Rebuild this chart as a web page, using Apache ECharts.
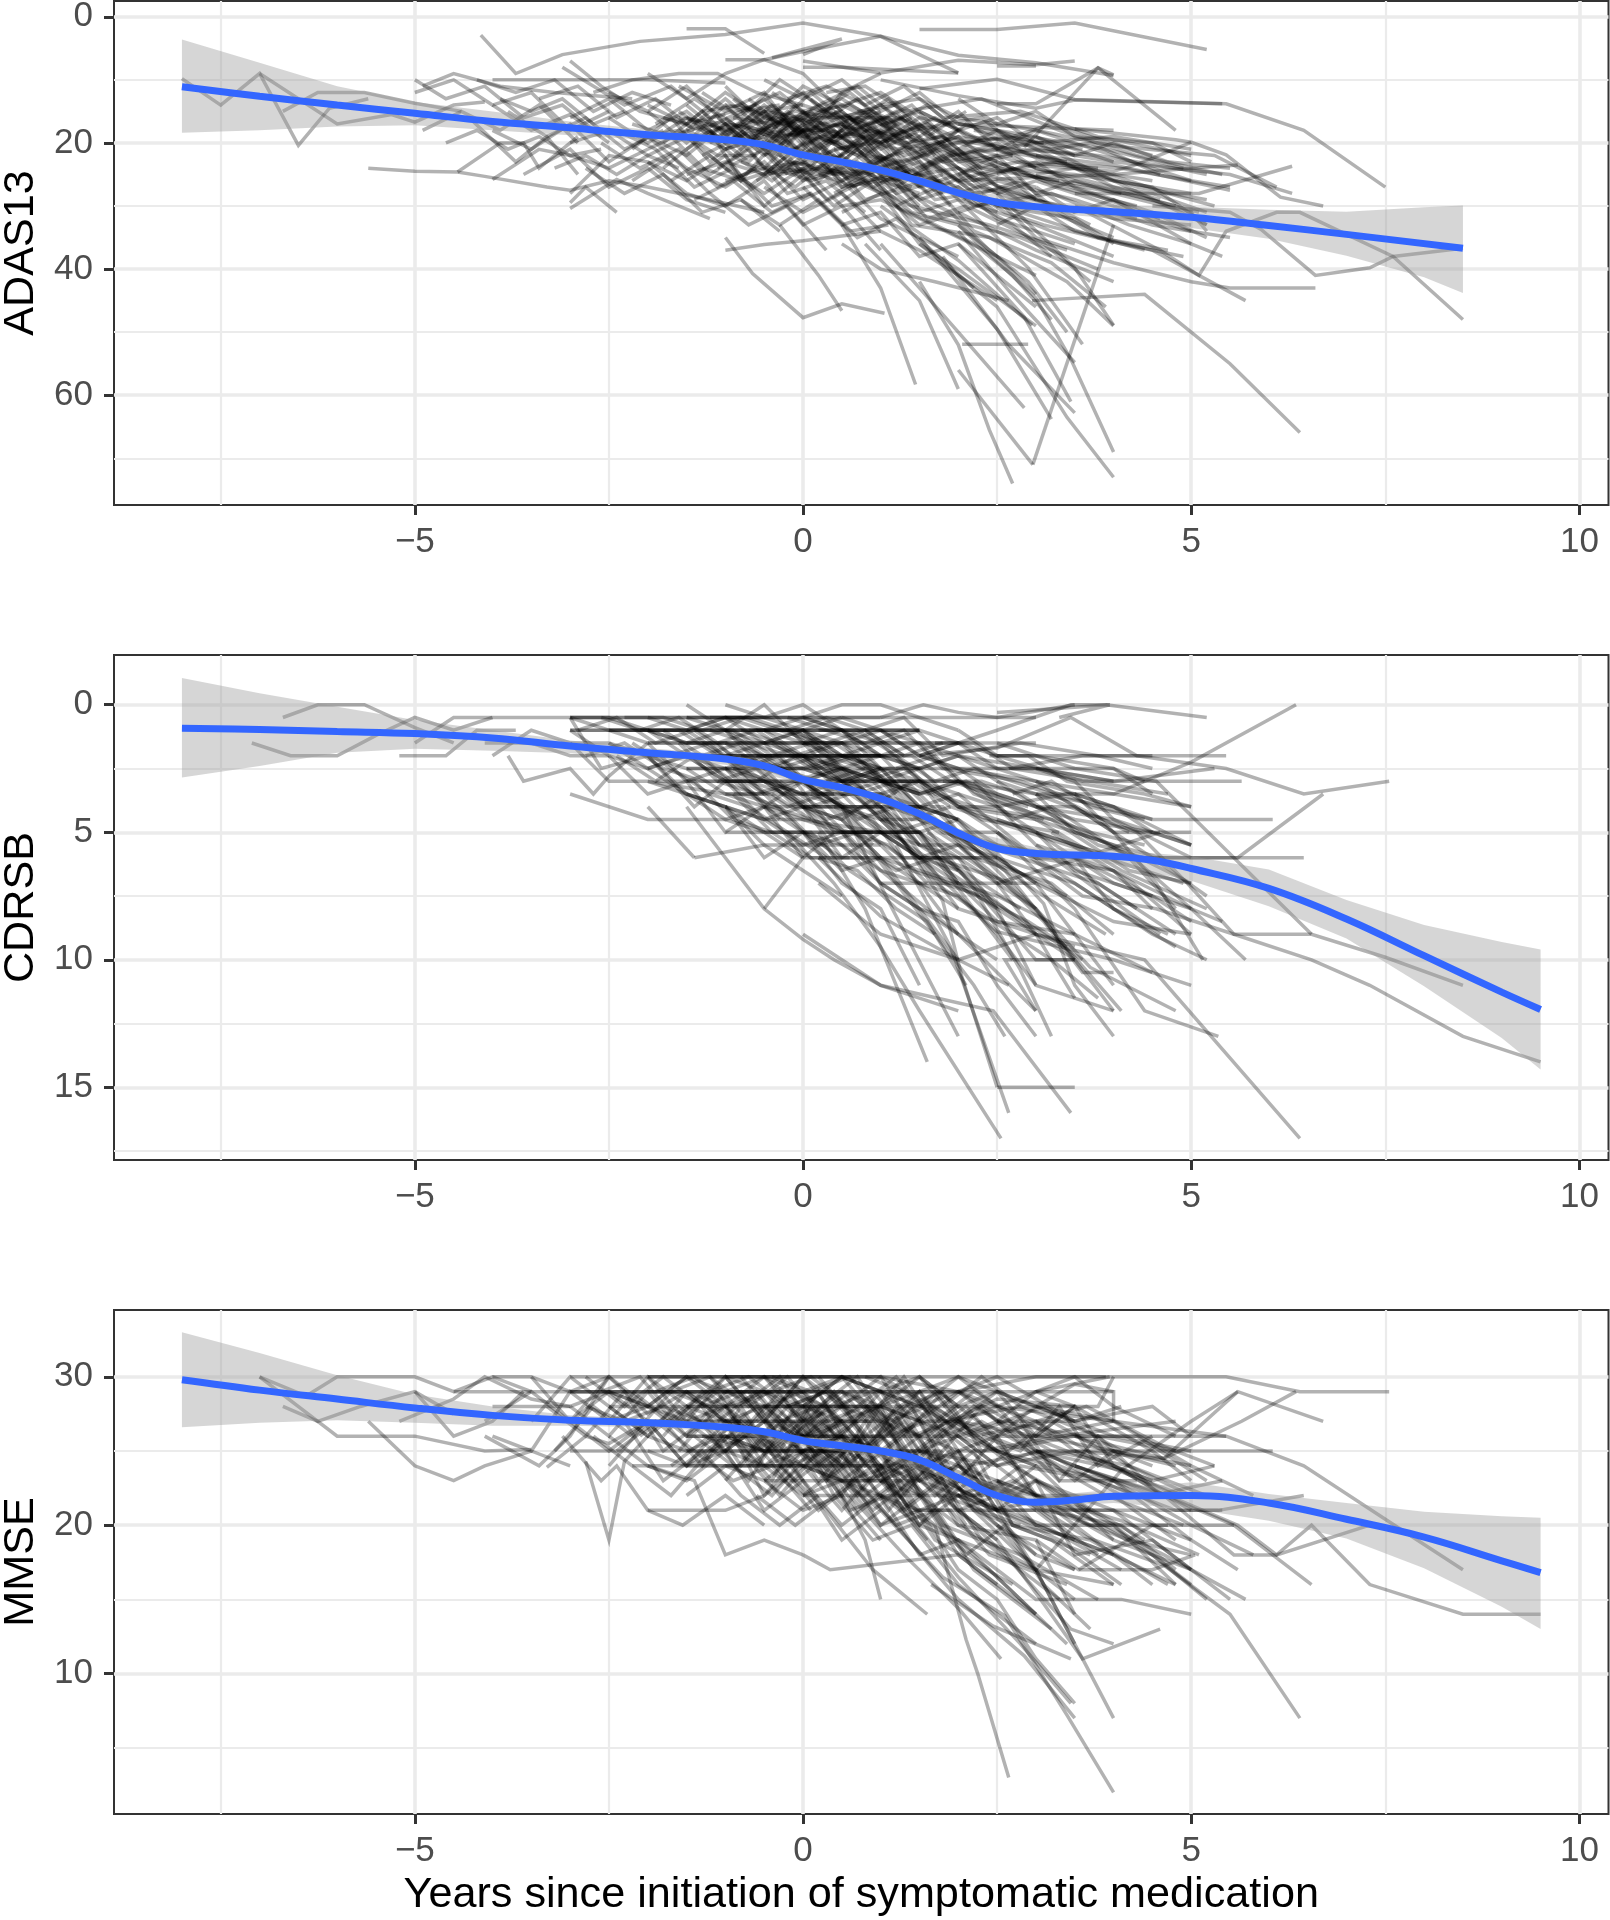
<!DOCTYPE html>
<html><head><meta charset="utf-8">
<style>html,body{margin:0;padding:0;background:#fff}#c{width:1610px;height:1920px}</style>
<script src="https://cdn.jsdelivr.net/npm/echarts@6/dist/echarts.min.js"></script>
</head><body><div id="c"></div>
<script>
const xTicks = [-5, 0, 5, 10];
const xMinor = [-7.5, -2.5, 2.5, 7.5];
const panelNames = ['ADAS13', 'CDRSB', 'MMSE'];
const yTicksA = [0, 20, 40, 60];
const yMinorA = [10, 30, 50, 70];
const yTicksC = [0, 5, 10, 15];
const yMinorC = [2.5, 7.5, 12.5, 17.5];
const yTicksM = [10, 20, 30];
const yMinorM = [5, 15, 25];

const adasSmooth = [[-8,11.1],[-7,12.6],[-6,14],[-5,15.3],[-4,16.6],[-3,17.6],[-2.5,18.2],[-2,18.7],[-1,19.5],[-0.5,20.3],[0,21.9],[0.5,23],[1,24.3],[1.5,26],[2,27.9],[2.5,29.4],[3,30.1],[4,30.9],[5,31.8],[6,33.1],[7,34.5],[8.5,36.7]];
const adasBand = [[-8,3.6,18.4],[-7,7.3,18],[-6,11,17.4],[-5,13.5,17.2],[-4,15,18],[-3,16.6,18.8],[-2,17.9,19.5],[-1,18.9,20.3],[0,21.2,22.7],[1,23.6,25],[2,27.2,28.6],[3,29.3,31],[4,29.9,32],[5,30.1,33.5],[6,30.6,35.2],[7,30.9,37.9],[8,30.2,41.3],[8.5,29.9,43.8]];
const cdrSmooth = [[-8,0.92],[-7,0.97],[-6,1.05],[-5,1.13],[-4,1.3],[-3,1.62],[-2,1.88],[-1,2.13],[-0.5,2.4],[0,2.93],[0.5,3.25],[1,3.68],[1.5,4.28],[2,5.03],[2.5,5.63],[3,5.83],[4,5.94],[4.5,6.1],[5,6.42],[6,7.2],[7,8.4],[8,9.84],[9,11.27],[9.5,11.95]];
const cdrBand = [[-8,-1.05,2.85],[-7,-0.45,2.4],[-6,0.08,1.88],[-5,0.6,1.73],[-4,1,1.8],[-3,1.4,1.9],[-2,1.7,2.1],[-1,1.95,2.35],[0,2.75,3.1],[1,3.5,3.85],[2,4.85,5.2],[3,5.6,6.05],[4,5.7,6.25],[5,5.94,6.9],[6,6.46,7.9],[7,7.66,9.17],[8,8.64,11.04],[9,9.3,13.07],[9.5,9.6,14.3]];
const mmseSmooth = [[-8,29.8],[-7,29.1],[-6,28.5],[-5,27.9],[-4,27.4],[-3,27.07],[-2,26.9],[-1,26.6],[-0.5,26.3],[0,25.7],[0.5,25.35],[1,25],[1.5,24.4],[2,23.2],[2.5,22],[3,21.55],[3.5,21.7],[4,21.95],[5,22],[6,21.5],[7,20.4],[8,19.2],[9,17.6],[9.5,16.8]];
const mmseBand = [[-8,33,26.6],[-7,31.6,26.9],[-6,30.1,27.07],[-5,28.8,26.9],[-4,28,26.7],[-3,27.4,26.7],[-2,27.15,26.6],[-1,26.9,26.3],[0,26,25.3],[1,25.3,24.6],[2,23.5,22.9],[3,21.9,21.2],[4,22.4,21.5],[5,22.9,21.1],[6,22.1,20.3],[7,21.5,19.1],[8,20.9,17.1],[9,20.6,14.5],[9.5,20.5,13]];

const adasLines = [
[-8,9.8,-7.5,14,-7,9,-6.5,20.4,-6.1,14.5,-5.6,13],
[-6.7,15,-6.25,12,-5.65,12,-5,13.7,-4.4,15],
[-7,9,-6,17,-5.3,15.5,-5,16.7,-4.5,14,-4.1,13.5],
[-5.6,24,-5,24.5,-4.45,24.6,-4.1,25.3,-3.3,27,-3,27.5,-2.5,26,-2,27,-1.2,29,-0.5,31],
[-4.15,2.9,-3.7,9,-3.1,6,-2.1,3.9,-1,2.8,0,1,1,3.1,2,6.1,3,7.3,4,9.3],
[-1.5,1.9,-1,1.9,-0.5,5.8],
[1.5,2,2.5,2,3.5,1,5.2,5.2],
[0,7,1,8.9,2,6.9,3,7.6,3.5,7],
[2.5,7.8,3,7.8],
[0,8,0.5,8,2,8.9],
[0,6,0.5,3.5,-0.4,6.5],
[-1,6.8,-0.5,6.8,0,5.5,1,3.1,2,8.9],
[1.5,11.4,2.5,9.9,3.5,13.1,5.45,13.8,6.45,18,7.5,27],
[2.5,13.8,3,13.8,3.8,8.1,4.8,18],
[2.85,20.7,3.8,8.1,4,9.2],
[1,10,2,12.5,3,14.5,3.5,13.2,5.4,13.8],
[2,17,3,17.5,4,18],
[3.5,17.8,4.8,19.5,5,19.9,5.45,21.9,6.15,28.6,6.7,30],
[2.9,23.5,4,24.5,4.3,23.4,5,19.9],
[3.5,28,5.1,28,6.3,23.7],
[2,26,3,25.5,4,25,5,24,5.6,23.5],
[3,22,4,23.5,5.5,27.5],
[8.5,36.7,7.6,38,7.3,39.8,6.6,41,5.9,33.7,5.5,31,4.5,30],
[8.5,48,7.6,38,6.4,31,6.1,31,5.45,34,5.1,41,4.6,37,3.5,30],
[2.95,45,4.4,44,5.5,55,6.4,65.9],
[2.96,71,4,33],
[2,56,2.96,71],
[2.7,74,2.4,65.5,2,52,1.5,42],
[4,73,3.4,63.5,2.5,46,1.5,36],
[4,69,3.45,54.3,3,44.6,2,33],
[1.45,58.3,1,43,0.5,33],
[2,59,1.5,45,0.8,36],
[2.85,62,2,50,1,36],
[3.45,61,2.85,47.6,2,36],
[3.5,62.8,2.65,52,1.8,38],
[3.2,63.8,2.5,49.5,1.5,35],
[2.05,51.9,2.9,51.9],
[4,48.9,3.5,39.8,2.5,28],
[3.6,51.9,2.9,39.8,2,29],
[3.5,54.8,2.65,43.4,2,34],
[2.95,48.9,2,38.6,1,30],
[2.65,45,1.7,42,1,40,0.5,36],
[1.05,47,0.5,45.5,0,47.7,-0.65,40.7,-1,35],
[0.5,46.6,0.2,41,-0.3,33],
[-1,37,-0.5,36.1,0,35.5,1,34],
[-3,30.4,-2.4,25.8,-2,28,-1.2,32],
[-2.4,31,-2.8,27,-3,29.5],
[-4.9,11,-4.5,9,-3.9,11,-3.2,12,-2.2,13],
[-4,10,-3,10,-2,10,-1,10.5],
[-3,7,-2.6,11,-2.1,15,-1.5,17,-1,15.5],
[-4,14,-3.5,18,-3,15.5,-2.5,20],
[-4.45,24.6,-3.9,20,-3.6,20,-3.4,24,-2.9,19],
[-4,25.8,-3.4,21,-3,22,-2.5,24,-2,21],
[-4.3,16,-3.7,23,-3.3,19,-2.9,25],
[-3.1,8,-2.3,14,-1.7,11,-1.2,16,-0.6,14],
[-2.7,12,-2.2,10,-1.6,9,-1.1,9,-0.6,12,0,14],
[-2,9,-1.5,13,-1,9,-0.5,6.8,0,9,0.5,15],
[-3,28,-2.5,22,-2,23,-1.5,26,-1,22,-0.5,30,0,25],
[-2,19,-1.5,22,-1,17,-0.5,24,0,18,0.5,27,1,24,1.5,30],
[-1.5,14,-1,19,-0.5,15,0,22,0.5,18,1,25,1.5,23,2,29],
[-1.5,18,-1,13,-0.5,18,0,16,0.5,21,1,19,2,24,3,27],
[-1.5,24,-1,27,-0.5,23,0,29,0.5,26,1,32,2,38],
[-1.2,20,-0.7,16,-0.2,20,0.3,15,0.8,17,1.3,22,2,20,3,24],
[-1,11,-0.5,17,0,11,0.5,14,1,12,1.5,16,2.5,18,3.5,22],
[-1,24,-0.5,28,0,24,0.5,30,1,29,2,35,3,41],
[-1,21,-0.5,19,0,26,0.5,24,1,28,1.5,33,2,31,3,37,4,42],
[-0.8,15,-0.3,12,0.2,17,0.7,13,1.2,19,1.7,16,2.7,22],
[-0.8,29,-0.3,33,0.2,29,0.7,35,1.2,32,2.2,43],
[-0.6,18,-0.1,21,0.4,18,0.9,23,1.4,21,2,26,3,30,4,35],
[-0.6,23,-0.1,27,0.4,22,0.9,27,1.4,30,2.4,33,3.4,37],
[-0.5,10,0,13,0.5,10,1,15,1.5,12,2,17,3,19,4,23],
[-0.5,27,0,31,0.5,28,1,34,1.5,37,2.5,45],
[-0.4,20,0.1,17,0.6,20,1.1,18,1.6,24,2.1,21,3.1,26,4.1,28],
[-0.3,16,0.2,20,0.7,25,1.2,23,1.7,29,2.7,27,3.7,33],
[-0.2,24,0.3,22,0.8,29,1.3,27,1.8,32,2.8,35,3.8,40],
[-0.2,13,0.3,11,0.8,14,1.3,11,1.8,16,2.8,15,3.8,19,5,22],
[0,19,0.5,23,1,18,1.5,21,2,19,3,22,4,26,5,28],
[0,27,0.5,33,1,31,1.5,38,2,36,3,46],
[0,15,0.5,13,1,17,1.5,20,2,18,3,24,4,27,4.6,29],
[0.2,22,0.7,20,1.2,26,1.7,24,2.2,30,3.2,28,4.2,33,5,36],
[0.3,12,0.8,11,1.3,15,2.3,13,3.3,18,4.3,22,5.4,25],
[0.4,28,0.9,25,1.4,33,2.4,35,3.4,42,4,49],
[0.5,17,1,21,1.5,18,2,22,3,20,4,26,5.2,33],
[0.5,31,1,28,1.5,36,2,40,3,49],
[0.7,15,1.2,14,1.7,19,2.7,21,3.7,24,4.7,28,5.3,30],
[0.8,24,1.3,21,1.8,27,2.8,31,3.8,35,4.7,37],
[1,20,1.5,17,2,23,3,21,4,23,5.5,25,6.3,28],
[1,26,1.5,31,2,29,3,33,4,38],
[1,14,1.5,13,2,16,3,18,4,20.5,5.3,22,6.1,27],
[1.2,30,1.7,27,2.2,34,3.2,39,3.9,46],
[1.5,21,2,19,2.5,24,3.5,25,4.5,27,5.2,33],
[1.5,25,2,28,2.5,26,3.5,29,4.5,33,5.5,35],
[1.8,17,2.3,16,2.8,21,3.8,22,4.8,24,5.2,25],
[2,22,2.5,20,3,24,4,28,5,31,5.2,34],
[2,31,2.5,29,3,35,4,39,5,42,5.5,43,6.6,43],
[2.2,18,2.7,19,3.2,17,4.2,21,4.5,22],
[2.5,25,3,23,3.5,27,4.5,31,5.2,35],
[2.5,33,3,30,3.5,34,4.5,37,5.7,45],
[3,19,3.5,22,4,20,4.7,23,5.5,24],
[3,27,3.5,31,4,29,5,36,5.4,38],
[-2,15,-1.5,20,-1,14,-0.5,20,0,16],
[-1.8,24,-1.2,18,-0.8,26,-0.3,19,0.2,23],
[-1.6,11,-1,15,-0.5,12,0,20,0.5,12,1,9],
[-1.4,17,-0.9,22,-0.4,17,0.1,24,0.6,16,1.1,20],
[-1.3,22,-0.8,19,-0.3,22,0.2,19,0.7,22,1.2,17],
[-1.1,16,-0.6,21,-0.1,14,0.4,20,0.9,15,1.4,19],
[-0.9,19,-0.4,14,0.1,19,0.6,16,1.1,22],
[-0.7,13,-0.2,18,0.3,24,0.8,19,1.3,16],
[-0.5,22,0,18,0.5,16,1,22,1.5,26],
[-0.3,18,0.2,14,0.7,18,1.2,15,1.7,22],
[-2.2,21,-1.7,16,-1.2,23,-0.7,18,-0.2,25],
[-2.5,16,-2,20,-1.5,16,-1,20,-0.5,16],
[-1.7,19,-1.2,25,-0.7,21,-0.2,28,0.3,26,0.8,31]
];
const adasLines2 = [
[-5,12,-4.5,10,-4,14,-3.5,12,-3,18,-2.5,15],
[-5,10,-4.6,13,-4.1,11,-3.6,16,-3.1,14,-2.6,19],
[-4.9,18,-4.4,15,-3.9,18,-3.4,14,-2.9,20],
[-4.2,10,-3.7,12,-3.2,10,-2.7,15,-2.2,12,-1.7,14],
[-4,18,-3.5,21,-3,17,-2.5,23,-2,19,-1.5,24],
[-3.8,15,-3.3,19,-2.8,16,-2.3,21,-1.8,18],
[-3.6,25,-3,21,-2.5,27,-2,24,-1.5,29,-1,31],
[-3.4,13,-2.9,11,-2.4,16,-1.9,13,-1.4,18],
[-3,20,-2.5,18,-2,22,-1.5,19,-1,24,-0.5,21],
[-3,16,-2.5,13,-2,18,-1.5,15,-1,20],
[-2.8,24,-2.3,28,-1.8,25,-1.3,31,-0.8,29,-0.3,34],
[-2.6,20,-2.1,24,-1.6,21,-1.1,27,-0.6,24],
[-2.5,12,-2,15,-1.5,11,-1,17,-0.5,13,0,19],
[-2.4,18,-1.9,21,-1.4,27,-0.9,24,-0.4,30,0.1,28],
[-2.2,26,-1.7,22,-1.2,28,-0.7,33,-0.2,30,0.3,37],
[-2,14,-1.5,17,-1,12,-0.5,16,0,12,0.5,18,1,15],
[-2,23,-1.5,28,-1,30,-0.5,26,0,33,0.5,30,1,37],
[-1.9,17,-1.4,13,-0.9,17,-0.4,22,0.1,15,0.6,22],
[-1.8,20,-1.3,15,-0.8,21,-0.3,15,0.2,21,0.7,18,1.2,25],
[-1.7,26,-1.2,22,-0.7,27,-0.2,22,0.3,29,0.8,26],
[-1.6,15,-1.1,19,-0.6,15,-0.1,18,0.4,14,0.9,19,1.4,16],
[-1.5,21,-1,17,-0.5,22,0,17,0.5,24,1,20,1.5,27],
[-1.4,29,-0.9,26,-0.4,31,0.1,28,0.6,34,1.1,33],
[-1.3,12,-0.8,16,-0.3,10,0.2,14,0.7,11,1.2,16],
[-1.2,18,-0.7,23,-0.2,17,0.3,23,0.8,20,1.3,27,1.8,25],
[-1.1,24,-0.6,20,-0.1,25,0.4,21,0.9,27,1.4,24,1.9,30],
[-1,16,-0.5,21,0,15,0.5,19,1,16,1.5,22,2,18],
[-1,19,-0.5,14,0,19,0.5,17,1,23,1.5,19,2,25,2.5,23],
[-0.9,13,-0.4,18,0.1,12,0.6,17,1.1,13,1.6,19,2.1,15],
[-0.9,22,-0.4,26,0.1,21,0.6,26,1.1,22,1.6,28,2.1,25,3,29],
[-0.8,18,-0.3,24,0.2,19,0.7,22,1.2,27,1.7,23,2.2,28],
[-0.7,20,-0.2,15,0.3,20,0.8,15,1.3,20,1.8,19,2.3,24,3.3,26],
[-0.6,15,-0.1,17,0.4,23,0.9,17,1.4,25,1.9,22,2.9,30],
[-0.5,18,0,23,0.5,18,1,20,1.5,24,2,21,2.5,27,3.5,31],
[-0.5,25,0,20,0.5,26,1,23,1.5,29,2,27,2.5,32,3.5,36],
[-0.4,12,0.1,16,0.6,12,1.1,17,1.6,14,2.1,19,3.1,20],
[-0.3,22,0.2,26,0.7,21,1.2,28,1.7,26,2.7,33,3.2,38],
[-0.2,19,0.3,17,0.8,22,1.3,18,1.8,23,2.3,22,3.3,27,4.3,30],
[-0.1,24,0.4,30,0.9,26,1.4,31,2,33,2.5,38,3,44],
[0,17,0.5,15,1,20,1.5,16,2,21,2.5,18,3.5,24,4.5,26],
[0,21,0.5,26,1,22,1.5,27,2,25,2.5,30,3.5,32,4,36],
[0.1,13,0.6,18,1.1,16,1.6,22,2.1,17,3.1,23,4.1,24,5,26],
[0.2,25,0.7,23,1.2,30,1.7,33,2.2,36,2.7,41,3.2,48],
[0.3,18,0.8,21,1.3,25,1.8,22,2.3,27,3.3,30,4.3,32],
[0.4,15,0.9,17,1.4,14,1.9,20,2.9,19,3.9,21,4.9,24],
[0.5,20,1,24,1.5,22,2,26,2.5,24,3,29,4,32,5,33],
[0.6,27,1.1,25,1.6,32,2.1,30,3.1,36,3.7,42],
[0.8,18,1.3,16,1.8,20,2.3,25,3.3,23,4.3,27,5.2,29],
[1,22,1.5,25,2,24,2.5,28,3,26,4,30,5,34],
[1,17,1.5,19,2,15,2.5,21,3,18,4,22,5,26,5.5,27],
[1.2,24,1.7,21,2.2,26,2.7,24,3.7,28,4.6,32],
[1.4,28,1.9,31,2.4,37,2.9,42,3.4,50],
[1.5,15,2,18,2.5,16,3,20,4,19,5,21],
[1.6,23,2.1,27,2.6,31,3.1,33,4.1,36,4.9,38],
[1.8,20,2.3,23,2.8,25,3.8,27,4.8,30],
[2,13,2.5,17,3,15,3.5,19,4.5,20,5,23],
[2,25,2.5,22,3,28,3.5,26,4.5,29,5.1,31],
[2.3,28,2.8,26,3.3,31,3.8,35,4.4,37],
[2.7,20,3.2,21,3.7,20,4.6,25],
[3,25,3.5,24,4,27,4.5,28,5.2,31]
];
const adasCore = [
[-1.6,16,-1,17,-0.5,18,0,19,0.5,20],
[-1.5,16,-1,18,-0.5,16,0,18,0.5,17,1,20],
[-1.4,19,-0.9,17,-0.4,19,0.1,18,0.6,21],
[-1.3,15,-0.8,14,-0.3,17,0.2,16,0.7,16,1.2,20],
[-1.2,17,-0.7,19,-0.2,18,0.3,18,0.8,19],
[-1.1,20,-0.6,18,-0.1,16,0.4,19,0.9,18,1.4,21],
[-1,14,-0.5,15,0,14,0.5,16,1,14,1.5,18],
[-0.9,16,-0.4,17,0.1,15,0.6,14,1.1,17],
[-0.8,17,-0.3,19,0.2,18,0.7,16,1.2,16,1.7,18],
[-0.7,19,-0.2,16,0.3,17,0.8,18,1.3,19],
[-0.6,17,-0.1,15,0.4,16,0.9,15,1.4,18,1.9,17],
[-0.5,15,0,16,0.5,14,1,17,1.5,15,2,18],
[-1.5,25,-1,23,-0.5,25,0,24,0.5,25,1,28],
[-1.3,24,-0.8,26,-0.3,24,0.2,25,0.7,27],
[-1,26,-0.5,24,0,23,0.5,27,1,26,1.5,28],
[-0.8,23,-0.3,25,0.2,24,0.7,25,1.2,24,1.7,27],
[-0.6,26,-0.1,23,0.4,25,0.9,24,1.4,27],
[-0.4,24,0.1,26,0.6,24,1.1,26,1.6,25,2.1,29],
[-0.2,23,0.3,24,0.8,26,1.3,25,1.8,28],
[0,25,0.5,22,1,26,1.5,25,2,27,2.5,31],
[-2.2,17,-1.7,19,-1.2,17,-0.7,20],
[-2,21,-1.5,18,-1,21,-0.5,19],
[-1.8,16,-1.3,18,-0.8,15,-0.3,14],
[-2.1,19,-1.6,18,-1.1,22,-0.6,22],
[0.2,19,0.7,19,1.2,21,1.7,20,2.2,23,2.7,22],
[0.4,21,0.9,20,1.4,19,1.9,22,2.4,21,3.4,23],
[0.6,16,1.1,19,1.6,17,2.1,20,2.6,19,3.6,21],
[0.8,22,1.3,23,1.8,21,2.3,24,2.8,23,3.8,24],
[-4.6,20,-4.2,18,-3.8,21,-3.4,19,-3,22,-2.6,21],
[-3.9,13,-3.5,15,-3.1,13,-2.7,17,-2.3,15],
[-3.2,24,-2.8,22,-2.4,25,-2,22,-1.6,24]
];

const cdrLines = [
[-6.7,0.5,-6.25,0,-5.65,0,-5,0.9,-4.5,1.5],
[-7.1,1.5,-6.6,2,-6,2,-5.5,1.2,-5,0.5,-4.5,1,-4,0.5],
[-5.2,2,-4.6,2,-4.2,1,-3.7,1],
[-5,1.5,-4.5,0.5,-4,0.5,-3,0.5,-2,0.5,-1,0.5,0,0.5],
[-4,2,-3.5,1,-3,1.5,-2.5,1.5],
[-3.8,2,-3.6,3,-3,2.5,-2.7,3.5,-2.5,2.8,-2,1.5],
[-3,3.5,-2,4.5,-1,4.5,-0.5,5,0,6],
[-1.4,6,-0.5,5.5,0,5.5,1,5.5],
[-1.5,4,-0.5,8,0,9.2,0.4,10,1,11,2,12],
[-0.5,8,0,6,0.4,5],
[-2,4,-1.4,6],
[-3,0.5,-2.6,2.5,-2,2,-1.4,4,-1,3],
[-3,1.5,-2.5,3,-2,3,-1,4,-0.5,5],
[2.55,17,1.5,12,1,9.5,0.4,7,-0.2,5],
[1.6,14,0.8,8,0.2,5],
[2,13,1.15,8,0.5,4],
[2.65,16,1.9,9.5,1.2,5.5],
[3.45,16,2.45,12,1,11,0,9],
[2.5,15,3.5,15],
[2.5,15,2.05,10.7,1.8,7.7,1,4],
[6.4,17,4.4,10,3,9,2,10,1,9,0.2,7],
[5.35,13,4.4,12,3.5,8,2.5,5],
[5,11,4,10,2.5,8.9,1.5,6],
[4.8,12,3.7,10.3,3,8,2,5],
[4.1,12,3.3,9.2,2.6,6.5,1.5,4],
[4,12,3,11,2.5,8,1.5,5],
[4,13,3.5,11,3.1,7.8,2.4,5.5],
[3.2,13,2.8,10.4,2.2,7.2,1.5,4.5],
[3,12,2.6,10,3.5,10],
[2.65,11,2,10,1,8.3,0.2,6],
[9.5,14,8.5,13,7.3,11,6.55,10,5.55,9,4.55,8,3.6,7.5,2.5,5],
[8.5,11,7.5,9.9,6.55,9,5.55,9,4.95,7,4.3,5,3,3.5],
[6.55,9,5.55,6,4.55,3,3.5,2.5,2.5,1.5],
[6.7,3.5,5.6,6,4,6,3,5],
[4,6,6.45,6],
[7.55,3,6.45,3.5,5.45,2.5,4.3,2,3.45,0.5,2.5,1.7,1.5,2],
[6.35,0,5,2.25,4,3.5,3.4,3.5,2.5,4],
[5.2,0.5,3.9,0,3.45,0,2.5,1,1.5,2],
[6.05,4.5,5.1,4.5,4.5,4.5,3.5,3.5],
[5.65,3,3.6,3,2.5,2],
[5.45,2,3.6,2,2.65,2.5],
[5.3,2.5,4,3,3,2.5,2,2.5],
[5.7,10,5,8,4.25,6,3,4],
[5.15,10,4.55,7,4,5,3,3],
[5,9,4.25,7,3.2,5],
[4.6,9,3.9,7.5,3,5.5],
[5.2,8,4.1,6.5,3,4.5],
[4.6,5,3.6,6,2.5,7],
[5,5.5,4,4.5,3,4],
[0,0.5,0.5,0,1,0,1.5,0.5,2,1],
[1,0.5,1.55,0,2,0.3,2.5,0.5,3.5,0],
[2.5,0.3,3.5,0.1,3.95,0,3.3,0.5],
[0,0.5,1,0.5,2,0.5,3,0.5],
[-1,0,-0.5,0.5,0,0,0.5,1,1,2],
[-1.5,0,-1,1,-0.5,0,0,1.5,0.5,1,1,2.5],
[-3,1,-2,1,-1,1,0,1,1,1,1.5,1],
[-2,1.5,-1,1.5,0,1.5,1,1.5,2.5,1.5,3,1.5],
[-2,2,-1,2,0,2,1,2,1.5,2],
[-1.5,2.5,-0.5,2.5,0,2.5,1,2.5,2,2.5],
[-2,3,-1,3.5,0,4.5,1,5,1.5,5],
[-1,5,-0.5,5,0,5,1,5,1.5,5],
[0,6,1,6,2,6,2.3,6],
[1,7,2,7,2.5,8],
[-2.5,1,-2,1.5,-1.5,3,-1,2.5,-0.5,4,0,3],
[-2.5,2,-2,3.5,-1.5,3,-1,5,-0.5,4,0,6],
[-2,1,-1.5,1.5,-1,1,-0.5,2,0,2,0.5,3,1,3],
[-2,2.5,-1.5,2,-1,3,-0.5,3,0,4,0.5,4.5,1,6],
[-1.5,1,-1,2,-0.5,1.5,0,3,0.5,2.5,1,4,1.5,4],
[-1.5,2,-1,3,-0.5,4.5,0,4,0.5,5.5,1,6.5,2,9],
[-1.5,3.5,-1,4,-0.5,6,0,5,0.5,7,1,8,1.5,11],
[-1,0.5,-0.5,1,0,1,0.5,2,1,1.5,1.5,3,2,3],
[-1,1.5,-0.5,2,0,2.5,0.5,3,1,4,1.5,5,2,4.5],
[-1,2,-0.5,3.5,0,3,0.5,4,1,5.5,1.5,7,2,8],
[-1,3,-0.5,3,0,4,0.5,6,1,5,1.5,6,2,8,3,9],
[-1,4,-0.5,4.5,0,5.5,0.5,5,1,7,1.5,8,2,10],
[-0.5,1,0,1.5,0.5,1.5,1,3,1.5,2.5,2,4,3,4.5],
[-0.5,2,0,2,0.5,3.5,1,3,1.5,4.5,2,5,3,7],
[-0.5,3,0,3.5,0.5,3,1,4.5,1.5,6,2,5.5,3,8],
[-0.5,4,0,5,0.5,6.5,1,6,1.5,8,2,9,2.5,10],
[-0.5,1.5,0,1,0.5,2,1,2,1.5,3.5,2,3,3,5,4,6],
[-0.3,2.5,0.2,3.5,0.7,3,1.2,5,1.7,4.5,2.2,6,3.2,7,4,9],
[-0.2,0.5,0.3,1,0.8,1.5,1.3,1,1.8,2.5,2.8,3,3.8,4,4.5,4.5],
[0,2,0.5,2.5,1,3.5,1.5,3,2,4,3,5,4,7,5,8],
[0,3,0.5,4,1,4,1.5,5.5,2,6,3,8,3.5,10],
[0,4,0.5,4.5,1,6,1.5,7,2,7.5,2.5,9,3,11],
[0,1,0.5,1.5,1,1,1.5,2,2,2.5,3,3,4,3.5,5,4],
[0.2,6,0.7,6.5,1.2,8,1.7,9,2.2,11,2.6,13],
[0.3,3,0.8,2.5,1.3,3.5,1.8,5,2.8,6,3.8,7,4.8,9],
[0.5,1,1,2,1.5,1.5,2,3,3,3.5,4,4,4.5,5],
[0.5,2,1,2.5,1.5,4,2,3.5,3,6,4,8,4.8,9.5],
[0.5,3.5,1,5,1.5,6,2,6.5,3,9,3.5,11.5],
[0.5,5,1,6.5,1.5,7,2,9,2.5,10.5,3,12],
[0.8,1,1.3,0.5,1.8,2,2.8,1.5,3.8,2,4.5,2.5],
[1,3,1.5,3.5,2,5,3,6,4,6.5,4.5,8],
[1,4.5,1.5,6,2,6,2.5,8,3.5,10,4,12],
[1,2,1.5,2.5,2,2,3,3,4,4,5,5.5],
[1.2,5,1.7,7,2.2,8,3.2,10,3.8,11.5],
[1.5,2,2,2.5,2.5,3.5,3.5,4.5,4.5,5,5,5.5],
[1.5,4,2,4.5,2.5,6,3.5,7,4.5,9,5.2,10],
[1.5,6,2,7,2.5,8.5,3.5,9,4,11],
[1.7,1.5,2.2,1.5,2.7,2.5,3.7,3,4.7,3.5],
[2,3.5,2.5,4,3,5.5,4,6.5,5,8,5.4,8.5],
[2,5.5,2.5,7,3,7,3.5,9,4.5,10.5],
[2,1,2.5,2,3,2,4,2.5,4.4,3],
[2.5,3,3,4,3.5,4,4.5,6,5.2,7.5],
[2.5,4.5,3,5,3.5,6.5,4.5,7.5,5,8.5],
[3,2.5,3.5,3,4,4.5,5,6],
[3,3.5,3.5,5,4,5.5,5,7],
[-1.2,1,-0.7,1.5,-0.2,2,0.3,2,0.8,2.5],
[-0.8,1,-0.3,1.5,0.2,2.5,0.7,2,1.2,3.5],
[-0.6,2,-0.1,3,0.4,2.5,0.9,4,1.4,3],
[-1.3,1.5,-0.8,2.5,-0.3,2,0.2,3.5,0.7,3.5],
[-0.9,2.5,-0.4,3,0.1,4,0.6,3.5,1.1,4.5],
[-0.7,1,-0.2,1,0.3,1.5,0.8,1,1.3,2],
[-1.1,3,-0.6,3.5,-0.1,3,0.4,5,0.9,5],
[-0.4,3.5,0.1,4.5,0.6,5,1.1,5.5,1.6,7]
];
const cdrLines2 = [
[-4.1,1.5,-3.5,1.5,-3,2,-2.5,2],
[-3,0.5,-2.5,0.5,-2,1,-1.5,1,-1,0.5,-0.5,0.5],
[-3,0.5,-2.5,1,-2,1,-1.5,2,-1,2,-0.5,3],
[-3,1,-2.5,2,-2,2.5,-1.5,3.5,-1,4.5,-0.5,4],
[-2.9,1,-2.4,0.5,-1.9,1.5,-1.4,1,-0.9,2,-0.4,2],
[-2.8,2,-2.3,1.5,-1.8,2.5,-1.3,3,-0.8,3,-0.3,4.5],
[-2.6,0.5,-2.1,1,-1.6,0.5,-1.1,1.5,-0.6,1,-0.1,2],
[-2.5,1.5,-2,2,-1.5,2.5,-1,3.5,-0.5,3.5,0,5],
[-2.4,2,-1.9,3,-1.4,2,-0.9,3,-0.4,4,0.1,4.5],
[-2.3,0.5,-1.8,0.5,-1.3,1,-0.8,0.5,-0.3,1,0.2,1.5],
[-2.2,1.5,-1.7,2.5,-1.2,3.5,-0.7,4,-0.2,5,0.3,6],
[-2.1,1,-1.6,1,-1.1,2,-0.6,2.5,-0.1,3.5,0.4,3.5],
[-2,0.5,-1.5,1,-1,0.5,-0.5,1.5,0,1,0.5,2.5,1,2],
[-2,2,-1.5,3.5,-1,4,-0.5,5.5,0,6.5,0.5,7.5],
[-1.9,3,-1.4,3,-0.9,4.5,-0.4,5,0.1,6,0.6,6],
[-1.8,1,-1.3,2,-0.8,1.5,-0.3,2.5,0.2,2,0.7,3.5,1.2,3],
[-1.7,2,-1.2,1.5,-0.7,3,-0.2,3.5,0.3,4.5,0.8,4],
[-1.6,1.5,-1.1,3,-0.6,2.5,-0.1,4,0.4,4,0.9,5.5],
[-1.5,0.5,-1,1,-0.5,1,0,2,0.5,1.5,1,2.5,1.5,2.5],
[-1.5,3,-1,3,-0.5,3,0,3,0.5,4,1,4,1.5,5.5],
[-1.4,1,-0.9,1,-0.4,2,0.1,1.5,0.6,3,1.1,2.5,1.6,4],
[-1.3,2,-0.8,3.5,-0.3,4,0.2,5.5,0.7,5,1.2,7,1.7,9],
[-1.2,0.5,-0.7,0.5,-0.2,1,0.3,0.5,0.8,1,1.3,2,1.8,1.5],
[-1.1,1.5,-0.6,3,-0.1,2,0.4,3,0.9,3,1.4,4.5,1.9,4],
[-1,2.5,-0.5,2,0,3,0.5,4.5,1,3.5,1.5,5.5,2,6.5],
[-1,1,-0.5,2.5,0,2,0.5,2.5,1,3,1.5,3,2,5,2.5,5],
[-0.9,3.5,-0.4,5,0.1,5,0.6,6.5,1.1,7.5,1.6,8.5,2.1,11],
[-0.8,2,-0.3,2.5,0.2,3,0.7,4.5,1.2,4,1.7,6,2.7,7],
[-0.7,3,-0.2,4,0.3,3.5,0.8,5,1.3,6,1.8,6,2.8,8],
[-0.6,1,-0.1,1,0.4,2,0.9,2,1.4,2,1.9,3,2.9,4],
[-0.5,0.5,0,0.5,0.5,1,1,1,1.5,1.5,2,2,3,2.5,4,3],
[-0.5,2.5,0,4,0.5,4,1,5,1.5,5,2,7,2.5,7.5,3.5,9],
[-0.4,1.5,0.1,2.5,0.6,2,1.1,3,1.6,3.5,2.1,3,3.1,4.5],
[-0.3,3,0.2,4,0.7,5.5,1.2,6.5,1.7,6,2.2,8,2.7,10],
[-0.2,1,0.3,2,0.8,3,1.3,2.5,1.8,3.5,2.3,4.5,3.3,5],
[-0.1,2,0.4,1.5,0.9,2.5,1.4,4,1.9,5,2.4,6,3.4,7.5],
[0,1.5,0.5,3,1,2.5,1.5,4,2,4.5,2.5,5.5,3.5,6,4.5,7.5],
[0,5,0.5,5.5,1,7,1.5,8,2,8.5,2.5,11,3,13],
[0,2.5,0.5,2,1,3,1.5,3.5,2,3,3,4.5,4,5.5,4.6,6],
[0.1,3.5,0.6,4,1.1,5,1.6,6,2.1,7,3.1,9,3.6,10],
[0.2,1,0.7,1,1.2,2,1.7,3,2.2,2.5,3.2,3.5,4.2,5],
[0.3,2,0.8,3.5,1.3,4,1.8,4,2.3,5.5,3.3,6,4.3,8],
[0.4,4,0.9,4.5,1.4,6.5,1.9,7,2.9,8.5,3.4,9.5],
[0.5,0.5,1,1,1.5,1,2,1.5,2.5,2,3.5,2,4.5,2],
[0.6,3,1.1,4,1.6,4.5,2.1,5.5,3.1,7.5,3.9,9],
[0.7,2,1.2,2,1.7,3.5,2.2,4,3.2,4.5,4.2,6.5,5,7],
[0.8,4,1.3,5,1.8,7,2.3,7.5,3,10,3.5,10],
[1,1,1.5,2,2,1.5,2.5,2.5,3,2.5,4,2.5,4.5,3.5],
[1,3.5,1.5,4.5,2,5.5,2.5,6,3,7,4,8.5,5,9],
[1,5,1.5,5,2,7,2.5,7,3,9,3.5,9.5],
[1.2,2.5,1.7,2,2.2,3.5,2.7,4,3.7,5,4.4,5.5],
[1.4,3,1.9,4,2.4,4.5,2.9,5,3.9,6,4.9,7],
[1.6,5,2.1,6,2.6,7,3.1,8.5,3.6,10.5,4,10.5],
[1.8,3,2.3,3,2.8,3.5,3.8,5.5,4.4,6],
[2,2,2.5,3,3,3.5,3.5,3.5,4,5,5,5],
[2,4,2.5,5,3,6,3.5,6,4,8,4.7,9],
[2.2,3,2.7,4.5,3.2,4,3.7,5,4.2,6,4.8,8],
[2.4,2,2.9,2,3.4,3,4.4,3.5,5,4],
[2.7,3.5,3.2,3,3.7,4,4.4,4.5]
];
const cdrCore = [
[-3,0.5,-2,0.5,-1,0.5,0,0.5,1,0.5],
[-3,1,-2,1,-1,1,0,1,0.5,1],
[-2.5,1,-1.5,1,-0.5,1,0.5,1,1.5,1],
[-2,1.5,-1,1.5,0,1.5,1,1.5,2,1.5],
[-1.5,1.5,-0.5,1.5,0.5,1.5,1,2],
[-2,2,-1.5,2,-1,2,-0.5,2,0,2,0.5,2],
[-1.5,2,-0.5,2,0.5,2,1,2],
[-1.5,2.5,-1,2.5,-0.5,3,0,3,0.5,3],
[-1,3,-0.5,3,0,3.5,0.5,3.5,1,3.5],
[-1,3.5,-0.5,3.5,0,3.5,0.5,4,1,4,1.5,4],
[-0.5,4,0,4,0.5,4,1,4.5,1.5,4.5],
[-1,4,-0.5,4.5,0,4.5,0.5,5,1,5],
[-0.5,5,0,5,0.5,5,1,5,1.5,6],
[-1,2.5,-0.5,2.5,0,2.5,0.5,3,1,3,1.5,3.5],
[-0.5,1,0,0.5,0.5,1,1,1.5,1.5,1],
[-0.5,2.5,0,3,0.5,2.5,1,3,1.5,3],
[0,1.5,0.5,2,1,2,1.5,2.5,2,2],
[0,2,0.5,3,1,2.5,1.5,3,2,3.5],
[0,3,0.5,3.5,1,3.5,1.5,4,2,4.5],
[0,4,0.5,5,1,5,1.5,5.5,2,5.5],
[0,5,0.5,6,1,6,1.5,6.5,2,7],
[-1.5,0.5,-1,0.5,-0.5,0.5,0,1,0.5,0.5],
[-2,1,-1.5,1.5,-1,1.5,-0.5,2.5,0,2.5],
[-2.5,1.5,-2,2.5,-1.5,2,-1,2.5,-0.5,3.5],
[-1,1,-0.5,1.5,0,2,0.5,2,1,2.5],
[0.5,2.5,1,3,1.5,3,2,4,2.5,4],
[0.5,3,1,4.5,1.5,5,2,6,2.5,6],
[1,3,1.5,3,2,3,2.5,3.5,3,4]
];

const mmseLines = [
[-7,30,-6.4,28.7,-6,30,-5,30,-4.5,29,-4,30,-3.5,29],
[-6.7,28,-6.25,27,-5.7,28,-5,29,-4.5,27.5],
[-7,30,-6,26,-5,26,-4.1,25,-3.5,25.1],
[-5.6,27,-5,24,-4.5,23,-4.1,24,-3.5,25,-3,24],
[-5,29,-4.5,26,-4,27,-3.6,29],
[-5.2,27,-4.5,28.5,-4.1,30,-3.5,28.5,-3,28],
[-4.1,26,-3.4,24,-3,26,-2.5,30],
[-4,28,-3,28,-2.5,29,-2,27],
[-4.5,29,-4,29,-3,29,-2,29,-1,29,0,29],
[-4,30,-3.5,30,-3,29,-2.5,30,-2,28,-1.5,30],
[-3.5,30,-3,27,-2.5,30,-2,27.5,-1.5,29],
[-3.3,23.9,-2.8,26,-2.5,25.5,-2,27],
[-3,25,-2.5,25,-2,25,-1.5,25,-1,25,0,25,0.5,25],
[-2.8,24.3,-2.5,19,-2.3,24.3,-2,26],
[-3.1,26,-2.6,23,-2.4,24,-2,21,-1.55,20,-1,22,-0.5,20],
[-2,21,-1,21,-0.5,22],
[-2.5,26,-2,24,-1.4,23,-1,18,-0.5,19,0,18],
[-2,25,-1.5,24,-1,24,0,24,0.5,24],
[-1.5,26,-1,26,0,26,0.5,26],
[-2,30,-1,30,0,30,1,30,2,30,3,30,3.9,30],
[-1,30,0,30,1,30,2,29,3,30,5.45,30,6.4,29,7.55,29],
[-2,29,-1,29,0,29,1,29,2,29,3,29,3.5,28],
[-1.5,28,-1,27,-0.5,28,0,28,1,28,1.5,28,2.5,28,4,27],
[0,18,0.35,17,2,18,2.5,16],
[1,15,0.8,19,0.4,23,0,26],
[1.6,14,0.9,17,0.3,21,-0.3,24],
[1.65,16,2.45,13.2,3.45,11],
[2.55,11,2,14.4,1.3,18,0.6,22],
[4,2,3.4,7.2,2.6,13.9,1.8,16.5,1,21,0,25],
[2.65,3,2.25,10,2.1,12.3,1.7,20,1,23],
[4,7,3.6,11,3.1,14.7,2.5,19,1.5,23],
[3.5,7,2.85,11.2,2,15,1.2,20,0.5,24],
[3.45,8,2.8,12,2,16.5,1,23],
[4.6,13,3.6,11,3,17,2.5,21,1.5,24],
[4,12,3.45,13,2.6,18,1.8,22],
[5,14,4.1,15,3,15,2,19,1,22],
[6.4,7,5.5,14,4.65,17.3,3.65,19.2,2.8,21.9,2,23],
[9.5,14,8.5,14,7.3,16,6.55,20,6.1,18,5.6,20,4.7,22,3.5,24],
[8.5,17,7.5,20.4,6.45,24,5.45,26,4,27,3,28],
[6.7,27,5.6,29,4.65,24.5,3.5,26],
[5.6,29,5,27,4.1,23.7,3,17,2.5,20],
[6.35,29,5.65,27,4.65,24.5,3.5,25],
[6.55,16,5.55,20,4.65,22,4.1,23.7,3,25],
[7.3,20,6.1,18,5.55,18,4.65,22,3.5,24],
[5.7,15,4.65,18,3.5,21,2.5,23],
[5.3,24,4.65,25.3,3.65,28,3,27],
[6.45,22,5.35,21,4.5,21,3,21,2,21],
[5.4,23,4.5,22,3.5,24],
[5.05,18,4.5,17,3.55,17,3,19],
[3.55,17,4.5,20,5.55,20],
[4.8,27,3.3,26,2.5,26],
[5.45,26,3.6,26,2.5,27],
[6.05,25,4.1,25,3,25],
[4.1,16,3.3,19,2.5,21,1.5,24],
[4,16,3,17,2,20,1,24],
[4.8,16,4,18,3,20,2,22],
[5.1,18,4.1,20.3,3,22,2,23],
[4.5,23,3.5,25,2.5,24,1.5,25],
[4,29,3.5,29.5,3,28,2,30,1,28],
[3.95,30,3,29,2,27,1,30],
[4.1,28,3.5,27,2.5,30,1.5,28],
[3.2,24,2.5,25,1.5,28,0.5,30],
[3.5,28,2.5,28.5,1.5,26,0.5,29],
[-1.5,22,-1,24,-0.5,23,0,21,0.5,22,1,19],
[-1.5,27,-1,25,-0.5,28,0,25,0.5,26,1,23,1.5,24],
[-1.5,29,-1,27,-0.5,26,0,28,0.5,24,1,26,2,22],
[-1,28,-0.5,25,0,27,0.5,23,1,25,1.5,21,2,22,3,18],
[-1,26,-0.5,24,0,22,0.5,24,1,20,1.5,22,2,18,3,14],
[-1,23,-0.5,26,0,24,0.5,26,1,23,1.5,25,2.5,20,3.5,17],
[-1,29,-0.5,28,0,29,0.5,27,1,28,1.5,25,2,26,3,22,4,19],
[-0.8,30,-0.3,27,0.2,28,0.7,30,1.2,26,1.7,28,2.7,24,3.7,21],
[-0.8,25,-0.3,22,0.2,25,0.7,21,1.2,23,1.7,19,2.7,16],
[-0.6,27,-0.1,29,0.4,26,0.9,28,1.4,24,2,27,3,23,4,20,5,16],
[-0.6,22,-0.1,20,0.4,22,0.9,19,1.4,20,2,16,3,12],
[-0.5,30,0,27,0.5,29,1,26,1.5,29,2,25,3,27,4,24,5,21],
[-0.5,26,0,23,0.5,20,1,22,1.5,18,2,19,3,14],
[-0.4,28,0.1,26,0.6,27,1.1,24,1.6,25,2.1,22,3.1,20,4.1,17],
[-0.3,24,0.2,21,0.7,23,1.2,20,1.7,21,2.2,17,3.2,13],
[-0.2,29,0.3,28,0.8,25,1.3,27,1.8,24,2.8,22,3.8,18],
[-0.2,25,0.3,27,0.8,22,1.3,24,1.8,20,2.8,18,3.8,15],
[0,28,0.5,30,1,27,1.5,29,2,26,3,24,4,23,5,19],
[0,24,0.5,21,1,24,1.5,20,2,22,3,17,3.5,15],
[0,26,0.5,28,1,25,1.5,23,2,24,3,20,4,18],
[0.2,30,0.7,27,1.2,29,1.7,26,2.2,28,3.2,25,4.2,24,5,22],
[0.3,23,0.8,25,1.3,21,1.8,23,2.3,19,3.3,15],
[0.4,28,0.9,29,1.4,26,1.9,27,2.9,25,3.9,22,4.9,20],
[0.5,25,1,22,1.5,24,2,20,3,19,3.5,14],
[0.5,29,1,28,1.5,30,2,27,3,26,4,25,5,24],
[0.7,26,1.2,24,1.7,26,2.2,23,3.2,21,4.2,19,5,18],
[0.8,30,1.3,29,1.8,27,2.8,28,3.8,26,4.8,25],
[1,24,1.5,26,2,21,3,23,4,21,5,17,5.5,15],
[1,28,1.5,27,2,29,3,26,4,27,5,24,5.8,22],
[1,22,1.5,20,2,19,3,17,3.5,12],
[1.2,27,1.7,29,2.2,26,3.2,27,4.2,24,5.2,22],
[1.5,30,2,28,2.5,29,3.5,27,4.5,28,5,26],
[1.5,25,2,24,2.5,22,3.5,21,4.5,18,5.2,15],
[1.7,23,2.2,25,2.7,20,3.7,19,4.7,16],
[1.8,28,2.3,30,2.8,28,3.8,28,4,30],
[2,26,2.5,24,3,25,4,23,5,20,5.8,18],
[2,22,2.5,23,3,20,4,20,4.8,16],
[2,29,2.5,27,3,29,4,29,4,27],
[2.5,27,3,27,3.5,25,4.5,23,5.3,24],
[2.5,23,3,22,3.5,20,4.5,16],
[3,29,3.5,30,4,28,4.8,26],
[3,23,3.5,21,4,21,5,19,5.6,17],
[-3,28,-2.5,26,-2,29,-1.5,26,-1,28,-0.5,24],
[-2.5,28,-2,26,-1.5,28,-1,25,-0.5,27,0,23],
[-2.5,24,-2,27,-1.5,24,-1,27,-0.5,22,0,25],
[-2,30,-1.5,27,-1,30,-0.5,27,0,30,0.5,27],
[-1.8,26,-1.3,29,-0.8,26,-0.3,29,0.2,25,0.7,27],
[-1.7,24,-1.2,26,-0.7,23,-0.2,27,0.3,24,0.8,26],
[-1.3,28,-0.8,24,-0.3,27,0.2,23,0.7,26,1.2,22],
[-1.2,25,-0.7,27,-0.2,24,0.3,25,0.8,23,1.3,24],
[-0.9,27,-0.4,25,0.1,27,0.6,24,1.1,27,1.6,23],
[-0.7,24,-0.2,26,0.3,23,0.8,27,1.3,22,1.8,25],
[-0.1,25,0.4,25,0.9,23,1.4,25,1.9,22,2.4,24]
];
const mmseLines2 = [
[-4.1,27,-3.5,29,-3,27,-2.5,29,-2,28],
[-4,26,-3.5,25,-3,29,-2.5,27,-2,30,-1.5,28],
[-3.5,27,-3,30,-2.5,28,-2,26,-1.5,29,-1,27],
[-3.3,28,-2.8,26,-2.3,29,-1.8,25,-1.3,27],
[-3.2,25,-2.7,28,-2.2,26,-1.7,29,-1.2,30,-0.7,27],
[-3,29,-2.5,29,-2,29,-1.5,29,-1,28,-0.5,29,0,27],
[-3,27,-2.5,25,-2,27,-1.5,24,-1,26,-0.5,25],
[-2.8,30,-2.3,28,-1.8,30,-1.3,28,-0.8,29,-0.3,26],
[-2.7,26,-2.2,24,-1.7,22,-1.2,25,-0.7,26,-0.2,23],
[-2.6,29,-2.1,30,-1.6,27,-1.1,29,-0.6,25,-0.1,27],
[-2.5,27,-2,28,-1.5,30,-1,28,-0.5,30,0,28,0.5,25],
[-2.4,25,-1.9,27,-1.4,25,-0.9,23,-0.4,24,0.1,21],
[-2.3,27,-1.8,23,-1.3,25,-0.8,22,-0.3,20,0.2,22],
[-2.2,29,-1.7,27,-1.2,29,-0.7,30,-0.2,28,0.3,29],
[-2.1,26,-1.6,28,-1.1,26,-0.6,28,-0.1,26,0.4,24],
[-2,28,-1.5,26,-1,29,-0.5,29,0,26,0.5,27,1,24],
[-2,24,-1.5,23,-1,25,-0.5,21,0,23,0.5,19,1,21],
[-1.9,29,-1.4,30,-0.9,28,-0.4,29,0.1,30,0.6,28],
[-1.8,27,-1.3,24,-0.8,28,-0.3,24,0.2,27,0.7,25,1.2,27],
[-1.7,29,-1.2,28,-0.7,25,-0.2,28,0.3,26,0.8,23],
[-1.6,25,-1.1,28,-0.6,26,-0.1,23,0.4,25,0.9,26],
[-1.5,30,-1,29,-0.5,30,0,29,0.5,30,1,29,1.5,27],
[-1.5,28,-1,30,-0.5,27,0,30,0.5,28,1,30,1.5,26,2,28],
[-1.4,26,-0.9,24,-0.4,22,0.1,25,0.6,21,1.1,22,1.6,19],
[-1.3,24,-0.8,27,-0.3,25,0.2,29,0.7,24,1.2,28,1.7,24],
[-1.2,30,-0.7,28,-0.2,30,0.3,27,0.8,28,1.3,26,1.8,29],
[-1.1,27,-0.6,29,-0.1,26,0.4,29,0.9,25,1.4,28,1.9,23],
[-1,25,-0.5,27,0,25,0.5,22,1,26,1.5,23,2,25,2.5,21],
[-1,30,-0.5,29,0,28,0.5,30,1,29,1.5,28,2,30,2.5,28],
[-0.9,26,-0.4,23,0.1,28,0.6,25,1.1,21,1.6,24,2.1,20],
[-0.8,28,-0.3,30,0.2,26,0.7,28,1.2,30,1.7,27,2.2,29,3.2,26],
[-0.7,29,-0.2,25,0.3,28,0.8,24,1.3,26,1.8,22,2.8,20],
[-0.6,24,-0.1,28,0.4,24,0.9,21,1.4,23,1.9,19,2.4,17,3.4,12],
[-0.5,28,0,26,0.5,24,1,28,1.5,22,2,24,2.5,23,3.5,19],
[-0.5,23,0,25,0.5,27,1,24,1.5,20,2,23,3,18,3.5,17],
[-0.4,30,0.1,29,0.6,30,1.1,27,1.6,28,2.1,26,3.1,28,4.1,25],
[-0.3,26,0.2,24,0.7,26,1.2,22,1.7,25,2.2,21,3.2,19,4,16],
[-0.2,28,0.3,29,0.8,27,1.3,30,1.8,26,2.3,27,3.3,24,4.3,22],
[-0.1,27,0.4,22,0.9,24,1.4,21,1.9,21,2.4,18,3.4,16],
[0,29,0.5,26,1,29,1.5,25,2,27,2.5,25,3.5,26,4.5,24],
[0,22,0.5,23,1,20,1.5,21,2,17,2.5,15,3,11,3.5,8],
[0.1,27,0.6,29,1.1,26,1.6,27,2.1,24,3.1,25,4.1,22],
[0.2,26,0.7,22,1.2,25,1.7,22,2.2,24,2.7,20,3.7,18],
[0.3,29,0.8,26,1.3,28,1.8,29,2.3,25,3.3,26,4.3,26,5.2,23],
[0.4,27,0.9,27,1.4,23,1.9,25,2.4,21,3.4,22,4.4,19],
[0.5,26,1,25,1.5,27,2,23,2.5,26,3,22,4,22,4.8,19],
[0.6,23,1.1,24,1.6,22,2.1,18,2.6,20,3.1,16,3.7,13],
[0.8,28,1.3,25,1.8,25,2.3,28,3.3,23,4.3,23],
[1,27,1.5,24,2,25,2.5,22,3,24,4,19,5,17],
[1,29,1.5,30,2,28,2.5,26,3,28,4,26,5,25],
[1.2,25,1.7,23,2.2,22,2.7,23,3.7,20,4.7,20],
[1.4,28,1.9,26,2.4,24,2.9,26,3.9,24,4.9,22],
[1.6,26,2.1,28,2.6,25,3.1,21,4.1,20,4.8,17],
[1.8,24,2.3,22,2.8,24,3.8,23,4.8,21,5.4,21],
[2,27,2.5,29,3,26,3.5,28,4.5,25,5,23],
[2,25,2.5,21,3,23,3.5,18,4.5,19,5,17],
[2.3,26,2.8,25,3.3,28,3.8,24,4.5,26],
[2.5,28,3,25,3.5,23,4,25,4.8,24],
[2.8,27,3.3,23,3.8,26,4.6,22],
[3,26,3.5,28,4,24,4.8,22]
];
const mmseCore = [
[-3,30,-2,30,-1,30,0,30,1,30],
[-2,30,-1,30,0,30,0.5,30],
[-3,29,-2,29,-1,29,0,29,0.5,29],
[-1.5,29,-1,29,-0.5,29,0,29,1,29,1.5,29],
[-2.5,28,-1.5,28,-0.5,28,0.5,28,1,28],
[-1.5,28,-0.5,28,0,28,0.5,27,1,27],
[-2,27,-1,27,0,27,0.5,27],
[-1,27,-0.5,27,0,26,0.5,26,1,26],
[-1.5,26,-1,26,-0.5,26,0,26,1,26],
[-1.3,26,-0.5,25,0,25,0.5,25,1,25,1.5,25],
[-1.5,25,-0.5,25,0.5,25,1,24],
[-2.2,24,-1,24,0,24,1,24,1.5,24],
[-1,24,-0.5,24,0,24,0.5,23,1,23],
[-0.5,23,0,23,0.5,23,1,22,1.5,22],
[-0.5,27,0,27,0.5,28,1,27,1.5,26,2,26],
[0,28,0.5,28,1,28,1.5,27,2,27,2.5,26],
[0,22,0.5,22,1,22,1.5,21,2,21,2.5,19],
[0.5,24,1,24,1.5,23,2,22,2.5,22],
[1,26,1.5,26,2,25,2.5,25,3,24],
[1,23,1.5,22,2,22,2.5,21,3,21],
[-2.8,28,-2.3,27,-1.8,28,-1.3,27,-0.8,27],
[-2.5,29,-2,28,-1.5,27,-1,28,-0.5,26],
[-2,26,-1.5,25,-1,26,-0.5,25,0,24],
[-1.5,24,-1,25,-0.5,24,0,26,0.5,24],
[-0.5,24,0,25,0.5,26,1,25,1.5,22],
[-0.5,22,0,24,0.5,23,1,23,1.5,23],
[1.5,29,2,29,2.5,28,3,27,3.5,27],
[1.5,27,2,26,2.5,27,3,25,3.5,24]
];

const XMIN = -8.875, XMAX = 10.375;
const panels = [
 {name:panelNames[0], top:1, h:504, ymin:-2.5, ymax:77.4, inverse:true, ticks:yTicksA, minor:yMinorA, lines:adasLines.concat(adasLines2, adasCore), smooth:adasSmooth, band:adasBand},
 {name:panelNames[1], top:655, h:505, ymin:-1.95, ymax:17.85, inverse:true, ticks:yTicksC, minor:yMinorC, lines:cdrLines.concat(cdrLines2, cdrCore), smooth:cdrSmooth, band:cdrBand},
 {name:panelNames[2], top:1310, h:504, ymin:0.54, ymax:34.5, inverse:false, ticks:yTicksM, minor:yMinorM, lines:mmseLines.concat(mmseLines2, mmseCore), smooth:mmseSmooth, band:mmseBand}
];
const FONT = '"Liberation Sans", Arial, sans-serif';
const grids=[], xAxes=[], yAxes=[], series=[];
const pair = a => { const o=[]; for(let i=0;i<a.length;i+=2) o.push([a[i],a[i+1]]); return o; };
panels.forEach((p,k)=>{
  grids.push({left:114, width:1494.5, top:p.top, height:p.h, show:true, borderColor:'#333', borderWidth:2, backgroundColor:'#fff', containLabel:false, outerBoundsMode:'none'});
  const gl = {show:true, lineStyle:{color:'#EBEBEB', width:3.6}};
  xAxes.push({gridIndex:k, type:'value', position:'bottom', min:XMIN, max:XMAX, axisLine:{show:false, onZero:false},
    axisTick:{show:true, length:10, customValues:xTicks, lineStyle:{color:'#333', width:3}},
    axisLabel:{customValues:xTicks, color:'#4D4D4D', fontFamily:FONT, fontSize:35, margin:20, hideOverlap:false, showMinLabel:true, showMaxLabel:true,
      formatter:v=> (v<0?'\u2212'+Math.abs(v):String(v))},
    splitLine:gl,
    name: k===2 ? 'Years since initiation of symptomatic medication' : '', nameLocation:'middle', nameGap:60,
    nameTextStyle:{color:'#000', fontFamily:FONT, fontSize:43.2}});
  yAxes.push({gridIndex:k, type:'value', position:'left', inverse:p.inverse, min:p.ymin, max:p.ymax, axisLine:{show:false, onZero:false},
    axisTick:{show:true, length:10, customValues:p.ticks, lineStyle:{color:'#333', width:3}},
    axisLabel:{customValues:p.ticks, color:'#4D4D4D', fontFamily:FONT, fontSize:35, margin:21, padding:[4,0,0,0], showMinLabel:true, showMaxLabel:true},
    splitLine:gl, name:p.name, nameLocation:'middle', nameGap:71, nameRotate:90,
    nameTextStyle:{color:'#000', fontFamily:FONT, fontSize:43.2}});
  series.push({type:'line', xAxisIndex:k, yAxisIndex:k, data:[], silent:true, z:1, symbol:'none',
    markLine:{silent:true, symbol:'none', label:{show:false}, animation:false, z:1,
      lineStyle:{color:'#EBEBEB', width:2.2, type:'solid'},
      data:[...p.minor.map(v=>({yAxis:v})), ...xMinor.map(v=>({xAxis:v}))]}});
  p.lines.forEach(a=>series.push({type:'line', xAxisIndex:k, yAxisIndex:k, data:pair(a), showSymbol:false, symbol:'none', silent:true, z:2,
    clip:true, lineStyle:{color:'rgba(0,0,0,0.3)', width:3.5, join:'miter'}, animation:false}));
  series.push({type:'custom', xAxisIndex:k, yAxisIndex:k, z:3, silent:true, animation:false, data:p.band, clip:true,
    encode:{x:0,y:[1,2]},
    renderItem:(params,api)=>{
      if(params.dataIndex!==0) return null;
      const pts=[...p.band.map(b=>api.coord([b[0],b[1]])), ...p.band.slice().reverse().map(b=>api.coord([b[0],b[2]]))];
      return {type:'polygon', shape:{points:pts}, style:{fill:'rgba(153,153,153,0.4)'}};
    }});
  series.push({type:'line', xAxisIndex:k, yAxisIndex:k, data:p.smooth, showSymbol:false, symbol:'none', smooth:0.4, z:4, silent:true, animation:false,
    lineStyle:{color:'#3366FF', width:7, cap:'butt'}});
});
const chart = echarts.init(document.getElementById('c'), null, {renderer:'canvas', width:1610, height:1920});
chart.setOption({animation:false, backgroundColor:'#fff', grid:grids, xAxis:xAxes, yAxis:yAxes, series});
</script></body></html>
